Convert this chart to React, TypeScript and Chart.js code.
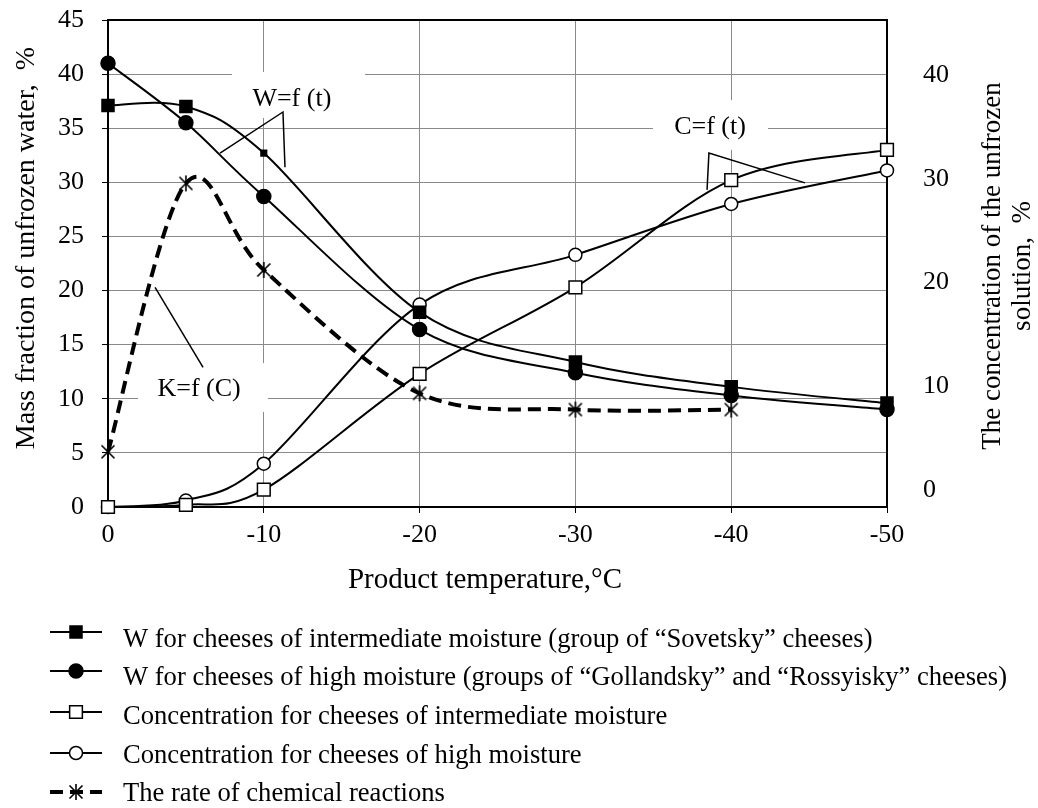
import React, { useEffect, useRef } from 'react';
import { Chart, registerables } from 'chart.js';

Chart.register(...registerables);

// ---------- data ----------
const temperatures = [0, -5, -10, -20, -30, -40, -50];
const wIntermediate = [37.1, 37.0, 32.7, 18.0, 13.4, 11.1, 9.6];
const wHigh = [41.0, 35.5, 28.7, 16.4, 12.4, 10.3, 9.0];
const cIntermediate = [0, 0.2, 1.6, 12.3, 20.3, 30.2, 33.0];
const cHigh = [0, 0.6, 4.0, 18.7, 23.3, 28.0, 31.1];
const rateTemperatures = [0, -5, -10, -20, -30, -40];
const rateValues = [5.1, 29.9, 21.9, 10.5, 9.0, 9.0];

const xTickValues = [0, -10, -20, -30, -40, -50];
const leftTickValues = [0, 5, 10, 15, 20, 25, 30, 35, 40, 45];
const rightTickValues = [0, 10, 20, 30, 40];

const legendLabels = [
  'W for cheeses of intermediate moisture (group of \u201cSovetsky\u201d cheeses)',
  'W for cheeses of high moisture (groups of \u201cGollandsky\u201d and \u201cRossyisky\u201d cheeses)',
  'Concentration for cheeses of intermediate moisture',
  'Concentration for cheeses of high moisture',
  'The rate of chemical reactions',
];
const xTitle = 'Product temperature,\u00b0C';
const leftTitle = 'Mass fraction of unfrozen water,  %';
const rightTitleLines = ['The concentration of the unfrozen', 'solution,  %'];

// annotation labels (data coordinates: [temperature, value])
const annotationTexts = ['W=f (t)', 'K=f (C)', 'C=f (t)'];
const annotationCenters = [[-11.8, 37.7], [-5.85, 10.9], [-38.64, 35.1]];
const annotationBoxes = [
  [-7.96, -16.5, 40.2, 35.95],
  [-1.93, -10.27, 13.3, 8.78],
  [-34.98, -42.36, 37.6, 33.0],
];
const annotationLeaders = [
  [[-7.19, 32.7], [-11.23, 36.5], [-11.36, 31.4]],
  [[-6.1, 12.9], [-3.02, 20.3]],
  [[-38.45, 29.3], [-38.57, 32.7], [-44.74, 29.95]],
];

// ---------- styling ----------
const FONT = "'Liberation Serif', 'Times New Roman', serif";
const GRID = '#8a8a8a';

function makeAsterisk(): HTMLCanvasElement {
  const c = document.createElement('canvas');
  c.width = 18;
  c.height = 18;
  const g = c.getContext('2d')!;
  g.strokeStyle = '#000';
  g.lineWidth = 1.6;
  g.beginPath();
  g.moveTo(2.5, 2.5); g.lineTo(15.5, 15.5);
  g.moveTo(15.5, 2.5); g.lineTo(2.5, 15.5);
  g.moveTo(9, 1); g.lineTo(9, 17);
  g.stroke();
  return c;
}

function drawMarker(ctx: CanvasRenderingContext2D, style: any, r: number, fill: string, x: number, y: number) {
  ctx.save();
  ctx.setLineDash([]);
  ctx.lineWidth = 1.5;
  ctx.strokeStyle = '#000';
  ctx.fillStyle = fill;
  if (style === 'rect') {
    const s = Math.SQRT1_2 * r;
    ctx.beginPath();
    ctx.rect(x - s, y - s, 2 * s, 2 * s);
    ctx.fill();
    ctx.stroke();
  } else if (style === 'circle') {
    ctx.beginPath();
    ctx.arc(x, y, r, 0, Math.PI * 2);
    ctx.fill();
    ctx.stroke();
  } else if (style instanceof HTMLCanvasElement) {
    ctx.drawImage(style, x - style.width / 2, y - style.height / 2);
  }
  ctx.restore();
}

// Excel-like smoothing: Catmull-Rom control points (1/6 of neighbour difference)
function applyExcelSmoothing(chart: any) {
  chart.getSortedVisibleDatasetMetas().forEach((meta: any) => {
    const line = meta.dataset;
    const pts = meta.data;
    if (!line || !pts || pts.length < 2) return;
    line.updateControlPoints(chart.chartArea, meta.iScale.axis);
    const n = pts.length;
    for (let i = 0; i < n; i++) {
      const p = pts[i];
      const prev = pts[Math.max(i - 1, 0)];
      const next = pts[Math.min(i + 1, n - 1)];
      const dx = (next.x - prev.x) / 6;
      const dy = (next.y - prev.y) / 6;
      p.cp1x = p.x - dx;
      p.cp1y = p.y - dy;
      p.cp2x = p.x + dx;
      p.cp2y = p.y + dy;
    }
    line._path = undefined;
  });
}

const legendLineX = [50, 102];
const legendMarkerX = 76;
const legendTextX = 123;
const legendLineY = [632, 671, 712, 753, 792];
const legendBaseY = [647, 685, 724, 763, 801];

export default function App() {
  const canvasRef = useRef<HTMLCanvasElement | null>(null);

  useEffect(() => {
    const canvas = canvasRef.current;
    if (!canvas) return;
    const asterisk = makeAsterisk();

    const toXY = (xs: number[], ys: number[]) => xs.map((x, i) => ({ x, y: ys[i] }));
    const base = {
      borderColor: '#000',
      borderWidth: 2,
      pointBorderColor: '#000',
      pointBorderWidth: 1.5,
      tension: 0.4,
      clip: false as any,
      yAxisID: 'y',
    };
    const datasets: any[] = [
      { ...base, label: legendLabels[0], data: toXY(temperatures, wIntermediate), pointStyle: 'rect',
        pointBackgroundColor: '#000', pointRadius: (c: any) => (c.dataIndex === 2 ? 4 : 8.5) },
      { ...base, label: legendLabels[1], data: toXY(temperatures, wHigh), pointStyle: 'circle',
        pointBackgroundColor: '#000', pointRadius: 7 },
      { ...base, label: legendLabels[2], data: toXY(temperatures, cIntermediate), pointStyle: 'rect',
        pointBackgroundColor: '#fff', pointRadius: 9 },
      { ...base, label: legendLabels[3], data: toXY(temperatures, cHigh), pointStyle: 'circle',
        pointBackgroundColor: '#fff', pointRadius: 6.5 },
      { ...base, label: legendLabels[4], data: toXY(rateTemperatures, rateValues), pointStyle: asterisk,
        borderWidth: 4, borderDash: [13, 7], pointRadius: 8 },
    ];

    const overlay = {
      id: 'overlay',
      beforeDatasetsDraw(chart: any) {
        applyExcelSmoothing(chart);
        const { ctx, chartArea, scales } = chart;
        const xs = scales.x;
        const ys = scales.y;
        ctx.save();
        annotationTexts.forEach((text, i) => {
          const b = annotationBoxes[i];
          const x1 = xs.getPixelForValue(b[0]);
          const x2 = xs.getPixelForValue(b[1]);
          const y1 = ys.getPixelForValue(b[2]);
          const y2 = ys.getPixelForValue(b[3]);
          ctx.fillStyle = '#fff';
          ctx.fillRect(Math.min(x1, x2), Math.min(y1, y2), Math.abs(x2 - x1), Math.abs(y2 - y1));
          ctx.fillStyle = '#000';
          ctx.font = `26px ${FONT}`;
          ctx.textAlign = 'center';
          ctx.textBaseline = 'middle';
          ctx.fillText(text, xs.getPixelForValue(annotationCenters[i][0]), ys.getPixelForValue(annotationCenters[i][1]));
          ctx.strokeStyle = '#000';
          ctx.lineWidth = 1.5;
          ctx.beginPath();
          annotationLeaders[i].forEach((p, j) => {
            const px = xs.getPixelForValue(p[0]);
            const py = ys.getPixelForValue(p[1]);
            if (j === 0) ctx.moveTo(px, py); else ctx.lineTo(px, py);
          });
          ctx.stroke();
        });
        ctx.strokeStyle = '#000';
        ctx.lineWidth = 2;
        ctx.strokeRect(chartArea.left, chartArea.top, chartArea.right - chartArea.left, chartArea.bottom - chartArea.top);
        ctx.restore();
      },
      afterDraw(chart: any) {
        const { ctx } = chart;
        ctx.save();
        ctx.fillStyle = '#000';
        ctx.font = `29px ${FONT}`;
        ctx.textAlign = 'center';
        ctx.textBaseline = 'alphabetic';
        ctx.fillText(xTitle, 485, 588);
        ctx.save();
        ctx.translate(27, 248);
        ctx.rotate(-Math.PI / 2);
        ctx.font = `28px ${FONT}`;
        ctx.textAlign = 'center';
        ctx.textBaseline = 'middle';
        ctx.fillText(leftTitle, 0, 0);
        ctx.restore();
        const rx = [993, 1023];
        rightTitleLines.forEach((line, i) => {
          ctx.save();
          ctx.translate(rx[i], 266);
          ctx.rotate(-Math.PI / 2);
          ctx.font = `27px ${FONT}`;
          ctx.textAlign = 'center';
          ctx.textBaseline = 'middle';
          ctx.fillText(line, 0, 0);
          ctx.restore();
        });
        chart.data.datasets.forEach((ds: any, i: number) => {
          const y = legendLineY[i];
          ctx.save();
          ctx.strokeStyle = '#000';
          ctx.lineWidth = ds.borderWidth;
          ctx.setLineDash(ds.borderDash || []);
          ctx.beginPath();
          ctx.moveTo(legendLineX[0], y);
          ctx.lineTo(legendLineX[1], y);
          ctx.stroke();
          ctx.restore();
          const r = typeof ds.pointRadius === 'number' ? ds.pointRadius : 8.5;
          drawMarker(ctx, ds.pointStyle, r, ds.pointBackgroundColor || '#000', legendMarkerX, y);
          ctx.font = `26.6px ${FONT}`;
          ctx.textAlign = 'left';
          ctx.textBaseline = 'alphabetic';
          ctx.fillStyle = '#000';
          ctx.fillText(ds.label, legendTextX, legendBaseY[i]);
        });
        ctx.restore();
      },
    };

    const tickFont = { family: FONT, size: 26 };
    const chart = new Chart(canvas, {
      type: 'line',
      data: { datasets },
      options: {
        animation: false,
        responsive: false,
        maintainAspectRatio: false,
        layout: { padding: { top: 20, left: 0, right: 0, bottom: 0 } },
        plugins: { legend: { display: false }, tooltip: { enabled: false }, title: { display: false } },
        scales: {
          x: {
            type: 'linear',
            min: -50,
            max: 0,
            reverse: true,
            afterBuildTicks: (s: any) => { s.ticks = xTickValues.map((v) => ({ value: v })); },
            afterFit: (s: any) => { s.height = 301; s.paddingLeft = 0; s.paddingRight = 0; },
            grid: { color: GRID, lineWidth: 1, tickLength: 6, tickColor: '#000', drawTicks: true },
            border: { color: '#000', width: 2 },
            ticks: { font: tickFont, color: '#000', padding: 7, maxRotation: 0, autoSkip: false,
              callback: (v: any) => String(v) },
          },
          y: {
            position: 'left',
            min: 0,
            max: 45,
            afterBuildTicks: (s: any) => { s.ticks = leftTickValues.map((v) => ({ value: v })); },
            afterFit: (s: any) => { s.width = 108; s.paddingTop = 0; s.paddingBottom = 0; },
            grid: { color: GRID, lineWidth: 1, tickLength: 6, tickColor: '#000', drawTicks: true },
            border: { color: '#000', width: 2 },
            ticks: { font: tickFont, color: '#000', padding: 18, callback: (v: any) => String(v) },
          },
          y1: {
            position: 'right',
            min: -1.64,
            max: 45.3,
            afterBuildTicks: (s: any) => { s.ticks = rightTickValues.map((v) => ({ value: v })); },
            afterFit: (s: any) => { s.width = 151; s.paddingTop = 0; s.paddingBottom = 0; },
            grid: { display: false, drawOnChartArea: false, drawTicks: false, tickLength: 0 },
            border: { display: false },
            ticks: { font: tickFont, color: '#000', padding: 36, callback: (v: any) => String(v) },
          },
        },
      } as any,
      plugins: [overlay],
    });
    return () => chart.destroy();
  }, []);

  return (
    <div style={{ position: 'absolute', left: 0, top: 0, width: 1038, height: 808, background: '#fff' }}>
      <canvas ref={canvasRef} width={1038} height={808} style={{ display: 'block', width: 1038, height: 808 }} />
    </div>
  );
}
